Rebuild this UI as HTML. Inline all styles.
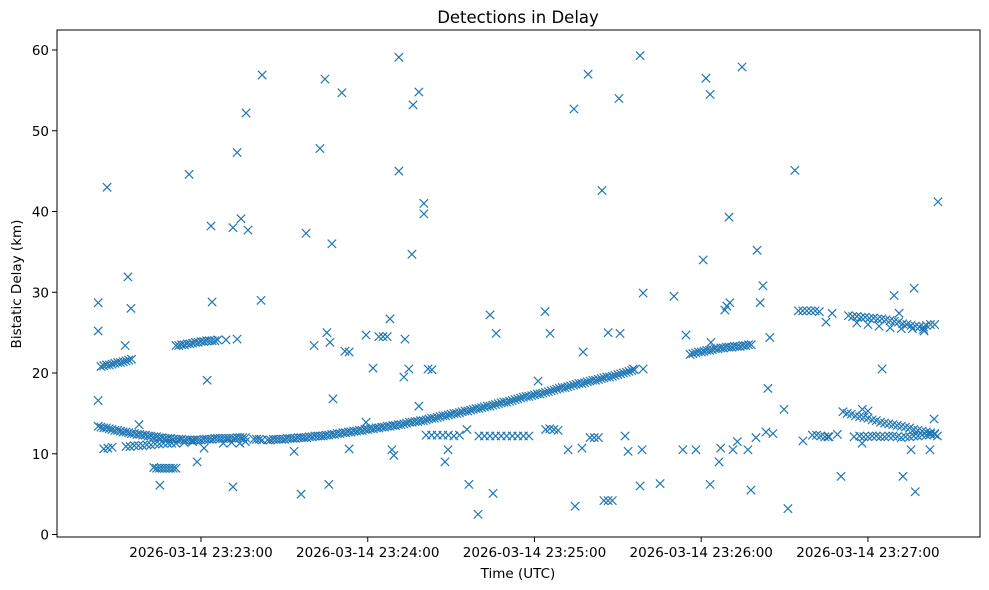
<!DOCTYPE html>
<html><head><meta charset="utf-8"><style>
body{margin:0;background:#fff}
svg{display:block;font-family:"DejaVu Sans","Liberation Sans",sans-serif}
</style></head><body>
<svg id="chart" width="989" height="590" viewBox="0 0 989 590" xmlns="http://www.w3.org/2000/svg">
<rect x="0" y="0" width="989" height="590" fill="#fff"/>
<text x="518" y="23" font-size="16.5" text-anchor="middle">Detections in Delay</text>
<g id="marks"></g>
<g id="axes"></g>
<text x="518" y="578" font-size="13.5" text-anchor="middle">Time (UTC)</text>
<text transform="translate(21,284) rotate(-90)" font-size="13.5" text-anchor="middle">Bistatic Delay (km)</text>
</svg>
<script>
// times in seconds after 2026-03-14 23:22:00 UTC, delays in km
const mainTrack = [[23,13.4],[24,13.3],[25,13.2],[26,13.2],[27,13.1],[28,13.0],[29,12.9],[30,12.9],[31,12.8],[32,12.7],[33,12.7],[34,12.6],[35,12.5],[36,12.5],[37,12.4],[38,12.4],[39,12.3],[40,12.3],[41,12.2],[42,12.2],[43,12.1],[44,12.1],[45,12.0],[46,12.0],[47,11.9],[48,11.9],[49,11.9],[50,11.8],[51,11.8],[52,11.8],[53,11.8],[54,11.7],[55,11.7],[56,11.7],[57,11.7],[58,11.7],[59,11.7],[60,11.7],[61,11.8],[62,11.8],[63,11.8],[64,11.8],[65,11.9],[66,11.9],[67,11.9],[68,11.9],[69,11.9],[70,11.9],[71,11.9],[72,11.9],[73,12.0],[74,12.0],[75,12.0],[76,12.0],[79,11.8],[80,11.8],[81,11.8],[82,11.7],[84,11.7],[85,11.7],[86,11.8],[87,11.8],[88,11.8],[89,11.8],[90,11.8],[91,11.9],[92,11.9],[93,11.9],[94,11.9],[95,12.0],[96,12.0],[97,12.0],[98,12.0],[99,12.1],[100,12.1],[101,12.2],[102,12.2],[103,12.2],[104,12.2],[105,12.3],[106,12.3],[107,12.4],[108,12.4],[109,12.5],[110,12.5],[111,12.6],[112,12.6],[113,12.7],[114,12.7],[115,12.8],[116,12.8],[117,12.9],[118,12.9],[119,13.0],[120,13.0],[121,13.1],[122,13.1],[123,13.2],[124,13.2],[125,13.3],[126,13.3],[127,13.4],[128,13.4],[129,13.5],[130,13.5],[131,13.6],[132,13.6],[133,13.7],[134,13.8],[135,13.9],[136,13.9],[137,14.0],[138,14.0],[139,14.1],[140,14.1],[141,14.2],[142,14.3],[143,14.4],[144,14.4],[145,14.5],[146,14.6],[147,14.7],[148,14.7],[149,14.8],[150,14.9],[151,15.0],[152,15.0],[153,15.1],[154,15.2],[155,15.3],[156,15.3],[157,15.4],[158,15.5],[159,15.6],[160,15.6],[161,15.7],[162,15.8],[163,15.9],[164,15.9],[165,16.0],[166,16.1],[167,16.2],[168,16.3],[169,16.4],[170,16.4],[171,16.5],[172,16.6],[173,16.7],[174,16.8],[175,16.9],[176,17.0],[177,17.1],[178,17.1],[179,17.2],[180,17.3],[181,17.4],[182,17.4],[183,17.5],[184,17.6],[185,17.7],[186,17.8],[187,17.9],[188,18.0],[189,18.1],[190,18.2],[191,18.2],[192,18.3],[193,18.4],[194,18.5],[195,18.6],[196,18.7],[197,18.7],[198,18.8],[199,18.9],[200,19.0],[201,19.1],[202,19.1],[203,19.2],[204,19.3],[205,19.4],[206,19.5],[207,19.5],[208,19.6],[209,19.7],[210,19.8],[211,19.9],[212,20.0],[213,20.1],[214,20.2],[215,20.3],[216,20.4]];
const lowBand = [[25,10.6],[26.5,10.7],[28,10.8],[33,10.9],[34.5,10.9],[36,11.0],[37.5,11.0],[39,11.0],[40.5,11.1],[42,11.1],[43.5,11.2],[45,11.2],[46.5,11.3],[48,11.3],[49.5,11.3],[51,11.3],[54,11.4],[57,11.5],[68,11.3],[71,11.4],[74,11.3],[76,11.5]];
const upperTrackA = [[24,20.8],[25,20.9],[26,21.0],[27,21.0],[28,21.1],[29,21.2],[30,21.3],[31,21.3],[32,21.4],[33,21.5],[34,21.6],[35,21.7]];
const upperTrackB = [[51,23.4],[52,23.4],[53,23.5],[54,23.5],[55,23.6],[56,23.6],[57,23.7],[58,23.8],[59,23.8],[60,23.9],[61,23.9],[62,24.0],[63,24.0],[64,24.0],[65,24.0],[66,24.1]];
const lowTrackA = [[43,8.3],[44,8.2],[45,8.2],[46,8.2],[47,8.2],[48,8.2],[49,8.2],[50,8.2],[51,8.2]];
const midTracks = [[124,24.5],[125.5,24.5],[127,24.5],[141,12.3],[143,12.3],[145,12.3],[147,12.3],[149,12.3],[151,12.2],[153,12.3],[160,12.2],[162,12.2],[164,12.2],[166,12.2],[168,12.2],[170,12.2],[172,12.2],[174,12.2],[176,12.2],[178,12.2],[184,13.0],[185.5,13.1],[187,13.0],[188.5,12.9],[200,12.0],[201.5,12.0],[203,12.0],[205,4.2],[206.5,4.2],[208,4.2]];
const rightTrackA = [[236,22.3],[237,22.4],[238,22.5],[239,22.6],[240,22.6],[241,22.7],[242,22.8],[243,22.8],[244,22.9],[245,23.0],[246,23.0],[247,23.1],[248,23.1],[249,23.2],[250,23.2],[251,23.2],[252,23.3],[253,23.3],[254,23.3],[255,23.4],[256,23.4],[257,23.5],[258,23.5],[248.5,27.8],[249.2,28.3],[250.3,28.7]];
const rightTrackB = [[275,27.7],[276.5,27.7],[278,27.7],[279.5,27.7],[281,27.7],[282.5,27.6],[293,27.1],[294.5,27.0],[296,27.0],[297.5,26.9],[299,26.9],[300.5,26.8],[302,26.8],[303.5,26.7],[305,26.7],[306.5,26.6],[308,26.5],[309.5,26.4],[311,26.3],[312.5,26.1],[314,26.0],[315.5,25.9],[317,25.8],[318.5,25.7],[320,25.7],[321,25.9],[322.5,26.0],[324,26.0],[296,26.2],[300,26.0],[304,25.8],[308,25.6],[312,25.5],[316,25.5],[320,25.4]];
const rightTrackC = [[291,15.2],[292.5,15.0],[294,14.9],[295.5,14.7],[297,14.6],[298.5,14.5],[300,14.4],[301.5,14.2],[303,14.1],[304.5,13.9],[306,13.8],[307.5,13.7],[309,13.6],[310.5,13.5],[312,13.4],[313.5,13.3],[315,13.2],[316.5,13.0],[318,12.9],[319.5,12.8],[321,12.7],[322.5,12.6],[324,12.5],[298,15.5],[300,15.3]];
const rightTrackD = [[280,12.3],[281.5,12.3],[283,12.2],[284.5,12.1],[286,12.1],[289,12.4],[295,12.1],[297,12.2],[298.5,12.1],[300,12.1],[301.5,12.2],[303,12.2],[304.5,12.1],[306,12.1],[307.5,12.2],[309,12.2],[310.5,12.1],[312,12.0],[313.5,12.1],[315,12.1],[316.5,12.2],[318,12.2],[319.5,12.3],[321,12.3],[322.5,12.4],[324,12.4],[325,12.2]];
const outliers = [[23,28.7],[23,25.2],[23,16.6],[26.2,43],[33.7,31.9],[34.8,28],[32.7,23.4],[37.7,13.6],[45.2,6.1],[55.7,44.6],[58.6,9],[63.6,38.2],[64,28.8],[62.2,19.1],[61.1,10.7],[69,24.1],[71.5,5.9],[71.5,38],[73,47.3],[74.4,39.1],[76.2,52.2],[76.9,37.7],[73,24.2],[82,56.9],[81.6,29],[93.5,10.3],[96,5],[97.8,37.3],[100.7,23.4],[102.8,47.8],[104.6,56.4],[105.3,25],[106.4,23.8],[107.1,36],[106,6.2],[107.5,16.8],[110.7,54.7],[111.8,22.7],[113.3,22.6],[113.3,10.6],[119.4,24.7],[121.9,20.6],[119.4,13.9],[128,26.7],[128.7,10.5],[129.4,9.8],[131.2,59.1],[131.2,45],[133,19.5],[133.4,24.2],[134.8,20.5],[135.9,34.7],[136.3,53.2],[138.4,54.8],[138.4,15.9],[140.2,41],[140.2,39.7],[141.7,20.5],[143.1,20.4],[148.9,10.5],[147.8,9],[155.7,13],[156.4,6.2],[159.7,2.5],[164,27.2],[165.1,5.1],[166.2,24.9],[183.8,27.6],[185.6,24.9],[181.3,19],[192.1,10.5],[194.2,52.7],[194.6,3.5],[197.5,22.6],[197.1,10.7],[199.3,57],[204.3,42.6],[206.5,25],[210.4,54],[210.8,24.9],[212.6,12.2],[213.7,10.3],[215.5,20.5],[218,59.3],[219.1,29.9],[218,6],[218.7,10.5],[219.1,20.5],[225.2,6.3],[230.2,29.5],[233.4,10.5],[234.5,24.7],[238.1,10.5],[240.7,34],[241.7,56.5],[243.2,54.5],[243.2,6.2],[243.5,23.8],[246.4,9],[250,39.3],[251.4,10.5],[254.7,57.9],[256.8,10.5],[257.9,5.5],[259.7,12],[260.1,35.2],[261.2,28.7],[262.2,30.8],[263.3,12.7],[264,18.1],[264.7,24.4],[265.8,12.5],[269.8,15.5],[271.2,3.2],[273.7,45.1],[276.6,11.6],[284.9,26.3],[287.1,27.4],[290.3,7.2],[285.6,12.1],[297.9,11.3],[305.1,20.5],[309.4,29.6],[311.2,27.4],[312.6,7.2],[316.6,30.5],[317,5.3],[323.8,14.3],[325.2,41.2],[315.5,10.5],[322.3,10.5],[320.2,25.2],[247,10.7],[253,11.5]];
const yTicks = [0,10,20,30,40,50,60];
const xTicks = [60,120,180,240,300];
const xTickLabels = ["2026-03-14 23:23:00","2026-03-14 23:24:00","2026-03-14 23:25:00","2026-03-14 23:26:00","2026-03-14 23:27:00"];

const L=57,R=980,T=30,B=537;
function xs(t){return 201+(t-60)*2.779;}
function ys(v){return 534.5-8.075*v;}
const NS="http://www.w3.org/2000/svg";
const marks=document.getElementById('marks');
const axes=document.getElementById('axes');
function mk(tag,attrs,parent){const e=document.createElementNS(NS,tag);for(const k in attrs)e.setAttribute(k,attrs[k]);parent.appendChild(e);return e;}
const all=[mainTrack,lowBand,upperTrackA,upperTrackB,lowTrackA,midTracks,rightTrackA,rightTrackB,rightTrackC,rightTrackD,outliers];
all.forEach(series=>series.forEach(p=>{
  const x=xs(p[0]),y=ys(p[1]),s=4.2;
  const e=mk('path',{d:`M${x-s},${y-s}L${x+s},${y+s}M${x-s},${y+s}L${x+s},${y-s}`,stroke:'#1f77b4','stroke-width':1.2,fill:'none'},marks);
  
  
}));
const frame=mk('rect',{x:L,y:T,width:R-L,height:B-T,fill:'none',stroke:'#000','stroke-width':1},axes);


yTicks.forEach(v=>{
  const y=ys(v);
  const tk=mk('line',{x1:L-5,x2:L,y1:y,y2:y,stroke:'#000'},axes);
  
  
  const tx=mk('text',{x:L-8,y:y+5,'font-size':13.5,'text-anchor':'end'},axes);
  tx.textContent=v;
  
  
});
xTicks.forEach((t,i)=>{
  const x=xs(t);
  const tk=mk('line',{x1:x,x2:x,y1:B,y2:B+5,stroke:'#000'},axes);
  
  
  const tx=mk('text',{x:x,y:B+20,'font-size':13.5,'text-anchor':'middle'},axes);
  tx.textContent=xTickLabels[i];
  
  
});
</script>
</body></html>
